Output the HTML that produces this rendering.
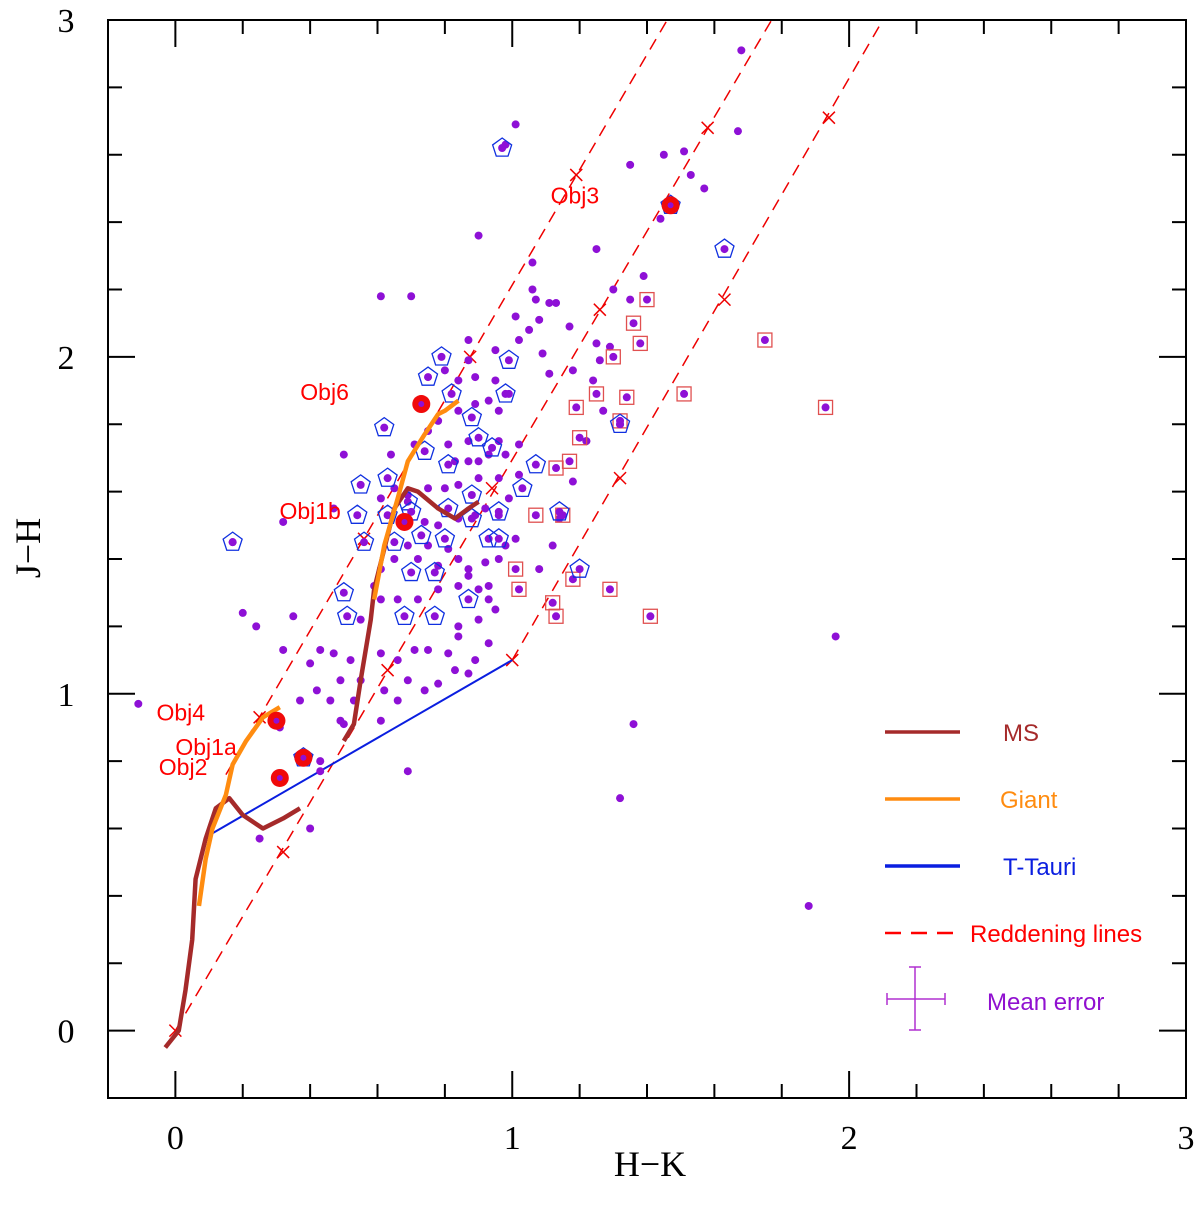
<!DOCTYPE html>
<html><head><meta charset="utf-8"><style>
body{margin:0;background:#fff}
svg{display:block}
</style></head><body>
<svg id="chart" width="1200" height="1206" xmlns="http://www.w3.org/2000/svg"></svg>
<script>
const xTicks=[0,1,2,3];
const yTicks=[0,1,2,3];
const dotsHK=[-0.11,0.20,0.24,0.35,0.32,0.43,0.40,0.47,0.52,0.49,0.55,0.37,0.42,0.46,0.53,0.50,0.43,0.69,0.61,0.66,0.62,0.69,0.74,0.78,0.83,0.87,0.89,0.93,0.84,0.81,0.75,0.71,0.66,0.61,0.84,0.90,0.95,0.93,0.87,0.78,0.72,0.66,0.61,0.55,0.72,0.78,0.84,0.87,0.92,0.96,0.98,0.81,0.75,0.69,0.65,0.61,0.59,0.84,0.90,0.93,0.69,0.74,0.78,0.84,0.89,0.92,0.96,0.99,1.02,0.96,0.90,0.84,0.80,0.75,0.69,0.65,0.61,0.83,0.87,0.90,0.93,0.98,1.02,0.96,0.87,0.81,0.75,0.71,0.78,0.84,0.89,0.93,0.96,0.99,0.95,0.89,0.84,0.80,0.87,0.95,0.87,1.02,1.05,1.08,1.11,1.13,1.17,1.01,1.07,1.09,1.11,1.18,1.26,1.29,1.27,1.32,1.22,1.18,1.14,1.22,1.24,1.25,1.35,1.39,1.35,1.45,1.51,1.57,1.53,1.67,1.68,1.01,0.98,0.90,1.06,1.06,0.61,0.70,1.25,1.44,1.30,1.36,1.32,1.96,1.88,0.31,0.43,0.49,0.25,0.40,0.17,0.32,0.47,0.50,0.64,1.12,1.08,1.01];
const dotsJH=[0.97,1.24,1.20,1.23,1.13,1.13,1.09,1.12,1.10,1.04,1.04,0.98,1.01,0.98,0.98,0.91,0.77,0.77,0.92,0.98,1.01,1.04,1.01,1.03,1.07,1.06,1.10,1.15,1.17,1.12,1.13,1.13,1.10,1.12,1.20,1.22,1.25,1.32,1.35,1.31,1.28,1.28,1.28,1.22,1.40,1.38,1.40,1.37,1.39,1.40,1.44,1.43,1.44,1.44,1.40,1.37,1.32,1.32,1.31,1.28,1.50,1.51,1.50,1.52,1.53,1.55,1.53,1.58,1.65,1.64,1.64,1.62,1.61,1.61,1.59,1.61,1.58,1.69,1.69,1.69,1.71,1.71,1.74,1.75,1.75,1.74,1.78,1.74,1.81,1.84,1.86,1.87,1.84,1.89,1.93,1.94,1.93,1.96,1.99,2.02,2.05,2.05,2.08,2.11,2.16,2.16,2.09,2.12,2.17,2.01,1.95,1.96,1.99,2.03,1.84,1.80,1.75,1.63,1.52,1.75,1.93,2.04,2.17,2.24,2.57,2.60,2.61,2.50,2.54,2.67,2.91,2.69,2.63,2.36,2.28,2.20,2.18,2.18,2.32,2.41,2.20,0.91,0.69,1.17,0.37,0.90,0.80,0.92,0.57,0.60,1.45,1.51,1.55,1.71,1.71,1.44,1.37,1.46];
const sqHK=[1.40,1.36,1.38,1.30,1.25,1.34,1.51,1.19,1.20,1.32,1.17,1.13,1.07,1.15,1.02,1.01,1.29,1.12,1.13,1.41,1.75,1.93,1.18];
const sqJH=[2.17,2.10,2.04,2.00,1.89,1.88,1.89,1.85,1.76,1.81,1.69,1.67,1.53,1.53,1.31,1.37,1.31,1.27,1.23,1.23,2.05,1.85,1.34];
const pentHK=[0.97,1.63,0.79,0.75,0.82,0.99,0.98,0.62,0.88,0.90,0.74,0.94,0.55,0.63,0.81,0.69,0.88,1.03,1.07,0.54,0.63,0.70,0.81,0.88,0.96,0.65,0.56,0.73,0.80,0.93,0.96,0.70,0.77,0.17,0.50,0.51,0.68,0.77,0.87,1.20,1.14,1.32,1.47,0.38];
const pentJH=[2.62,2.32,2.00,1.94,1.89,1.99,1.89,1.79,1.82,1.76,1.72,1.73,1.62,1.64,1.68,1.57,1.59,1.61,1.68,1.53,1.53,1.54,1.55,1.52,1.54,1.45,1.45,1.47,1.46,1.46,1.46,1.36,1.36,1.45,1.30,1.23,1.23,1.23,1.28,1.37,1.54,1.80,2.45,0.81];
const objNames=["Obj3","Obj6","Obj1b","Obj4","Obj1a","Obj2"];
const objHK=[1.47,0.73,0.68,0.30,0.38,0.31];
const objJH=[2.45,1.86,1.51,0.92,0.81,0.75];
const ms1HK=[-0.03,0.01,0.03,0.05,0.06,0.09,0.12,0.16,0.20,0.26,0.32,0.37];
const ms1JH=[-0.05,0.00,0.12,0.27,0.45,0.57,0.66,0.69,0.64,0.60,0.63,0.66];
const ms2HK=[0.50,0.53,0.55,0.58,0.59,0.62,0.65,0.69,0.72,0.78,0.83,0.87,0.90];
const ms2JH=[0.86,0.91,1.04,1.22,1.31,1.43,1.55,1.61,1.60,1.55,1.52,1.55,1.57];
const g1HK=[0.07,0.09,0.11,0.15,0.17,0.21,0.26,0.31];
const g1JH=[0.37,0.51,0.60,0.70,0.79,0.86,0.93,0.96];
const g2HK=[0.59,0.62,0.66,0.69,0.74,0.78,0.80,0.84];
const g2JH=[1.28,1.44,1.58,1.69,1.77,1.83,1.84,1.87];
const ttHK=[0.10,1.00];
const ttJH=[0.58,1.10];
const redStartHK=[0.15,0.00,1.00];
const redStartJH=[0.76,0.00,1.10];
const redEndHK=[1.46,1.77,2.10];
const redEndJH=[3.00,3.00,3.00];
const crossHK=[0.25,0.56,0.875,1.19,0,0.32,0.63,0.94,1.26,1.58,1.0,1.32,1.63,1.94];
const crossJH=[0.93,1.46,2.0,2.54,0,0.53,1.07,1.61,2.14,2.68,1.10,1.64,2.17,2.71];

const NS="http://www.w3.org/2000/svg";
const svg=document.getElementById('chart');
const X0=108,X1=1186,Y0=20,Y1=1098,XMIN=-0.2,XMAX=3,YMIN=-0.2,YMAX=3;
const sx=v=>X0+(v-XMIN)/(XMAX-XMIN)*(X1-X0);
const sy=v=>Y1-(v-YMIN)/(YMAX-YMIN)*(Y1-Y0);
function mk(tag,attrs,parent){const e=document.createElementNS(NS,tag);for(const k in attrs)e.setAttribute(k,attrs[k]);(parent||svg).appendChild(e);return e;}
function poly(hx,jy,color,w,name,dash){const pts=hx.map((h,i)=>sx(h)+','+sy(jy[i])).join(' ');const e=mk('polyline',{points:pts,fill:'none',stroke:color,'stroke-width':w,'stroke-linejoin':'round'});if(dash)e.setAttribute('stroke-dasharray',dash);

return e;}

const fr=mk('rect',{x:X0,y:Y0,width:X1-X0,height:Y1-Y0,fill:'none',stroke:'#000','stroke-width':2});


for(let i=-1;i<=15;i++){const v=i*0.2;if(v<XMIN-1e-6||v>XMAX+1e-6)continue;const maj=Math.abs(v-Math.round(v))<1e-6;const L=maj?27:14;const x=sx(v);
 mk('line',{x1:x,y1:Y1,x2:x,y2:Y1-L,stroke:'#000','stroke-width':2});mk('line',{x1:x,y1:Y0,x2:x,y2:Y0+L,stroke:'#000','stroke-width':2});
 const y=sy(v);mk('line',{x1:X0,y1:y,x2:X0+L,y2:y,stroke:'#000','stroke-width':2});mk('line',{x1:X1,y1:y,x2:X1-L,y2:y,stroke:'#000','stroke-width':2});}
xTicks.forEach(v=>{const t=mk('text',{x:sx(v),y:1149,'text-anchor':'middle','font-family':'Liberation Serif, serif','font-size':34});t.textContent=v;

});
yTicks.forEach(v=>{const t=mk('text',{x:66,y:sy(v)+12,'text-anchor':'middle','font-family':'Liberation Serif, serif','font-size':34});t.textContent=v;

});
let t=mk('text',{x:650,y:1176,'text-anchor':'middle','font-family':'Liberation Serif, serif','font-size':36});t.textContent='H−K';


t=mk('text',{x:40,y:548,'text-anchor':'middle','font-family':'Liberation Serif, serif','font-size':36,transform:'rotate(-90 40 548)'});t.textContent='J−H';



redStartHK.forEach((h,i)=>{poly([h,redEndHK[i]],[redStartJH[i],redEndJH[i]],'#e00',1.5,'reddening-line','12,8');});
crossHK.forEach((h,i)=>{const x=sx(h),y=sy(crossJH[i]);const g=mk('path',{d:`M${x-6},${y-6}L${x+6},${y+6}M${x-6},${y+6}L${x+6},${y-6}`,stroke:'#e00','stroke-width':1.5});

});
poly(ttHK,ttJH,'#0a1ee0',2,'t-tauri-locus');
dotsHK.forEach((h,i)=>{const c=mk('circle',{cx:sx(h),cy:sy(dotsJH[i]),r:4,fill:'#8e10d6'});

});
sqHK.forEach((h,i)=>{const x=sx(h),y=sy(sqJH[i]);mk('circle',{cx:x,cy:y,r:4,fill:'#8e10d6'});const r=mk('rect',{x:x-7,y:y-7,width:14,height:14,fill:'none',stroke:'#e05050','stroke-width':1.3});

});
pentHK.forEach((h,i)=>{const x=sx(h),y=sy(pentJH[i]);mk('circle',{cx:x,cy:y,r:4,fill:'#8e10d6'});let p=[];for(let k=0;k<5;k++){const a=-Math.PI/2+k*2*Math.PI/5;p.push((x+10*Math.cos(a))+','+(y+10*Math.sin(a)));}
const pg=mk('polygon',{points:p.join(' '),fill:'none',stroke:'#1030e0','stroke-width':1.3});

});
poly(ms1HK,ms1JH,'#a52a2a',4.5,'ms-locus-dwarf');
poly(g1HK,g1JH,'#ff8c10',4.5,'giant-locus-lower');
poly(ms2HK,ms2JH,'#a52a2a',4.5,'ms-locus-upper');
poly(g2HK,g2JH,'#ff8c10',4.5,'giant-locus-upper');
const labelDX=[-120,-121,-125,-120,-128,-121],labelDY=[-2,-4,-3,0,-3,-3];
objHK.forEach((h,i)=>{const x=sx(h),y=sy(objJH[i]);const c=mk('circle',{cx:x,cy:y,r:9,fill:'#f00a0a'});


mk('circle',{cx:x,cy:y,r:3,fill:'#8e10d6'});
const l=mk('text',{x:x+labelDX[i],y:y+labelDY[i],'font-family':'Liberation Sans, sans-serif','font-size':23,fill:'#f00'});l.textContent=objNames[i];

});
function leg(y,color,text,tx,dash){const l=mk('line',{x1:885,y1:y,x2:960,y2:y,stroke:color,'stroke-width':dash?2.5:3.5});if(dash)l.setAttribute('stroke-dasharray','16,10');


const tt=mk('text',{x:tx,y:y+9,'font-family':'Liberation Sans, sans-serif','font-size':24,fill:color});tt.textContent=text;

}
leg(732,'#a52a2a','MS',1003);
leg(799,'#ff8c10','Giant',1000);
leg(866,'#0a1ee0','T-Tauri',1003);
leg(933,'#ff0000','Reddening lines',970,true);
const eb=mk('path',{d:'M887,999H945M887,993V1005M945,993V1005M915,967V1030M909,967H921M909,1030H921',stroke:'#b030d0','stroke-width':1.5,fill:'none'});


t=mk('text',{x:987,y:1010,'font-family':'Liberation Sans, sans-serif','font-size':24,fill:'#9010d0'});t.textContent='Mean error';


</script>
</body></html>
